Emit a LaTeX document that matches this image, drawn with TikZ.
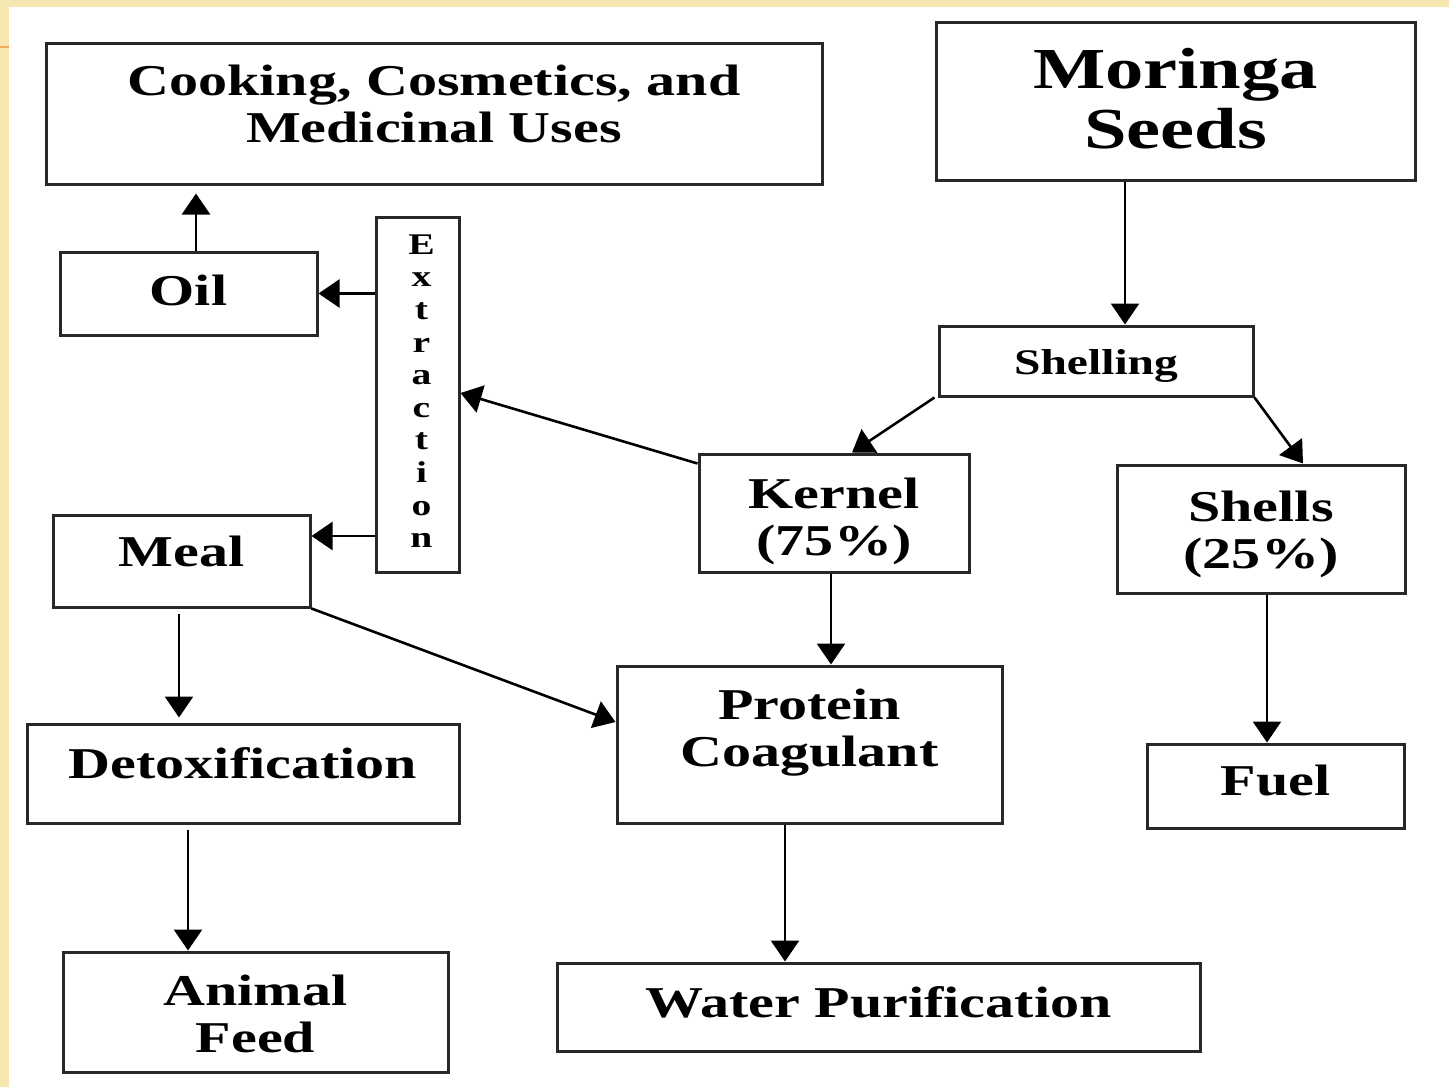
\documentclass[tikz,border=0pt]{standalone}
\usepackage{fontspec}
\setmainfont{Liberation Serif}[FakeStretch=1.32]
\usetikzlibrary{arrows.meta,calc}
\definecolor{parch}{RGB}{246,230,176}
\definecolor{orng}{RGB}{238,170,90}
\definecolor{boxline}{RGB}{40,40,40}
\newcommand{\lift}[2]{\raisebox{#1}[\height][\depth]{#2}}
\newcommand{\twol}[2]{\begin{tabular}{@{}c@{}}#1\\#2\end{tabular}}
\begin{document}
\begin{tikzpicture}[x=1pt,y=-1pt,
  box/.style={draw=boxline, line width=3pt, rectangle, inner sep=0pt, align=center,
    font=\fontsize{44}{47}\selectfont\bfseries},
  arr/.style={line width=2.6pt, draw=black, -{Triangle[length=21pt,width=28pt]}},
]
\useasboundingbox (0,0) rectangle (1449,1087);
\fill[white] (0,0) rectangle (1449,1087);
\fill[parch] (0,0) rectangle (1449,7);
\fill[parch] (0,0) rectangle (9,1087);
\draw[orng, line width=2pt] (0,47) -- (9,47);

\node[box, minimum width=776, minimum height=141] (cook) at (434,113.5)
  {\lift{4pt}{\twol{Cooking, Cosmetics, and}{Medicinal Uses}}};
\node[box, minimum width=479, minimum height=158, font=\fontsize{58}{60}\selectfont\bfseries] (moringa) at (1175.5,101)
  {\lift{-5pt}{\twol{Moringa}{Seeds}}};
\node[box, minimum width=257, minimum height=83] (oil) at (188.5,293.5) {\lift{3pt}{Oil}};
\node[box, minimum width=83, minimum height=355, font=\fontsize{30}{32.6}\selectfont\bfseries] (extr) at (417.5,394.5)
  {\hspace*{8pt}\begin{tabular}{@{}c@{}}E\\x\\t\\r\\a\\c\\t\\i\\o\\n\end{tabular}};
\node[box, minimum width=314, minimum height=70, font=\fontsize{36}{40}\selectfont\bfseries] (shelling) at (1096,361) {\lift{-5pt}{Shelling}};
\node[box, minimum width=270, minimum height=118] (kernel) at (834,513) {\lift{-10pt}{\twol{Kernel}{(75\%)}}};
\node[box, minimum width=288, minimum height=128] (shells) at (1261,529) {\lift{-7pt}{\twol{Shells}{(25\%)}}};
\node[box, minimum width=257, minimum height=92] (meal) at (181.5,561) {\lift{10pt}{Meal}};
\node[box, minimum width=385, minimum height=157] (protein) at (809.5,744.5) {\lift{11pt}{\twol{Protein}{Coagulant}}};
\node[box, minimum width=257, minimum height=84] (fuel) at (1275.5,786) {\lift{6pt}{Fuel}};
\node[box, minimum width=432, minimum height=99] (detox) at (243,773.5) {\lift{10pt}{Detoxification}};
\node[box, minimum width=385, minimum height=120] (animal) at (255.5,1012) {\lift{-8pt}{\twol{Animal}{Feed}}};
\node[box, minimum width=643, minimum height=88] (water) at (878.5,1007) {\lift{5pt}{Water Purification}};

% connectors
\draw[arr] ([xshift=-50.5pt]moringa.south) -- ([xshift=-50.5pt]moringa.south |- shelling.north);
\draw[arr] ([xshift=-3pt]shelling.south west) -- ([xshift=18pt]kernel.north);
\draw[arr] (shelling.south east) -- ([xshift=42pt]shells.north);
\draw[arr] ([yshift=-11pt]kernel.north west) -- ([yshift=1.5pt]extr.east);
\draw[arr] (extr.west |- oil.east) -- (oil.east);
\draw[arr] ([xshift=7.5pt]oil.north) -- ([xshift=7.5pt,yshift=-8pt]oil.north |- cook.south);
\coordinate (mealin) at ([yshift=25pt]meal.east);
\draw[arr] (extr.west |- mealin) -- (mealin);
\draw[arr] ([xshift=-2.5pt,yshift=-5pt]meal.south) -- ([xshift=-2.5pt,yshift=5pt]meal.south |- detox.north);
\draw[arr] (meal.south east) -- ([yshift=22.5pt]protein.west);
\draw[arr] ([xshift=-3pt]kernel.south) -- ([xshift=-3pt]kernel.south |- protein.north);
\draw[arr] ([xshift=6pt]shells.south) -- ([xshift=6pt]shells.south |- fuel.north);
\draw[arr] ([xshift=-55pt,yshift=-5pt]detox.south) -- ([xshift=-55pt]detox.south |- animal.north);
\draw[arr] ([xshift=-24.5pt]protein.south) -- ([xshift=-24.5pt]protein.south |- water.north);
\end{tikzpicture}
\end{document}
